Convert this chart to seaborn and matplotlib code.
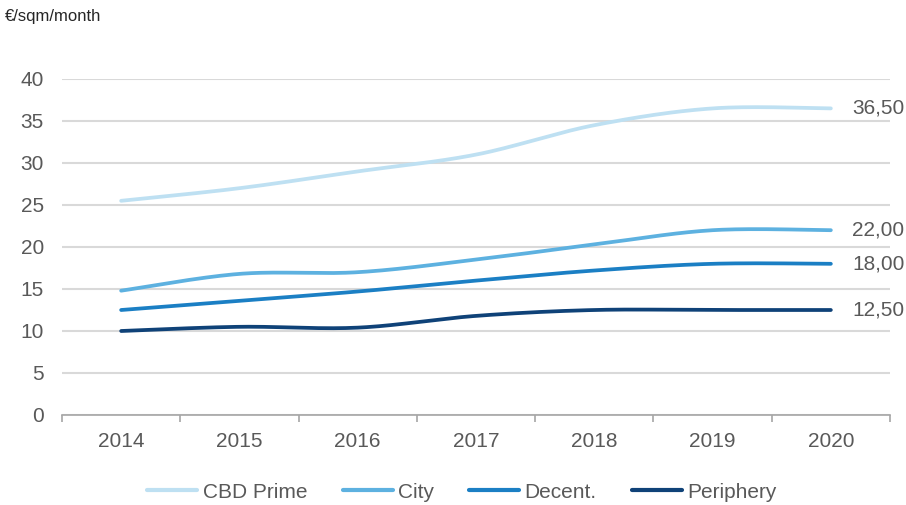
import numpy as np
import pandas as pd
import matplotlib
matplotlib.use("Agg")
import matplotlib.pyplot as plt
import seaborn as sns

years = [2014, 2015, 2016, 2017, 2018, 2019, 2020]
cbd_prime = [25.5, 27.0, 29.0, 31.0, 34.5, 36.5, 36.5]
city = [14.8, 16.8, 17.0, 18.5, 20.3, 22.0, 22.0]
decent = [12.5, 13.6, 14.7, 16.0, 17.2, 18.0, 18.0]
periphery = [10.0, 10.5, 10.4, 11.8, 12.5, 12.5, 12.5]
series_names = ["CBD Prime", "City", "Decent.", "Periphery"]
end_labels = ["36,50", "22,00", "18,00", "12,50"]
y_ticks = [0, 5, 10, 15, 20, 25, 30, 35, 40]
unit_label = "€/sqm/month"

colors = ["#bee0f2", "#5db1e0", "#1b7fc4", "#0f4278"]
text_color = "#595959"
grid_color = "#d9d9d9"
fs = 15


def smooth(xs, ys, n=40):
    """Excel-style smoothed line: cubic Bezier segments with Catmull-Rom control points."""
    xs = np.asarray(xs, float)
    ys = np.asarray(ys, float)
    px = np.concatenate([[xs[0]], xs, [xs[-1]]])
    py = np.concatenate([[ys[0]], ys, [ys[-1]]])
    outx, outy = [], []
    t = np.linspace(0, 1, n)
    for i in range(len(xs) - 1):
        p0 = np.array([px[i + 1], py[i + 1]])
        p3 = np.array([px[i + 2], py[i + 2]])
        pm = np.array([px[i], py[i]])
        pp = np.array([px[i + 3], py[i + 3]])
        c1 = p0 + (p3 - pm) / 6.0
        c2 = p3 - (pp - p0) / 6.0
        b = ((1 - t) ** 3)[:, None] * p0 + (3 * (1 - t) ** 2 * t)[:, None] * c1 \
            + (3 * (1 - t) * t ** 2)[:, None] * c2 + (t ** 3)[:, None] * p3
        if i > 0:
            b = b[1:]
        outx.extend(b[:, 0])
        outy.extend(b[:, 1])
    return np.array(outx), np.array(outy)


sns.set_theme(style="white")
plt.rcParams["font.family"] = ["Liberation Sans", "DejaVu Sans"]

fig = plt.figure(figsize=(9.06, 5.05), dpi=100)
ax = fig.add_axes([62 / 906, 90 / 505, (890 - 62) / 906, (415 - 79) / 505])

all_series = [cbd_prime, city, decent, periphery]
for name, vals, col in zip(series_names, all_series, colors):
    sx, sy = smooth(years, vals)
    df = pd.DataFrame({"year": sx, "value": sy})
    sns.lineplot(data=df, x="year", y="value", ax=ax, color=col, linewidth=2.7,
                 label=name, sort=False, solid_capstyle="round")

for lab, vals in zip(end_labels, all_series):
    ax.text(years[-1] + 0.18, vals[-1], lab, color=text_color, fontsize=fs,
            va="center", ha="left", clip_on=False)

ax.set_xlim(years[0] - 0.5, years[-1] + 0.5)
ax.set_ylim(0, 40)
ax.set_yticks(y_ticks)
ax.set_yticklabels([str(v) for v in y_ticks])
ax.set_xticks(years)
ax.set_xticklabels([str(y) for y in years])
ax.set_xticks(np.arange(years[0] - 0.5, years[-1] + 0.51, 1.0), minor=True)
ax.set_xlabel("")
ax.set_ylabel("")

ax.yaxis.grid(True, color=grid_color, linewidth=1.5)
ax.xaxis.grid(False)
ax.set_axisbelow(True)
for s in ["top", "right", "left"]:
    ax.spines[s].set_visible(False)
ax.spines["bottom"].set_color("#a6a6a6")
ax.spines["bottom"].set_linewidth(1.2)

ax.tick_params(axis="y", length=0, pad=13, labelsize=fs, labelcolor=text_color)
ax.tick_params(axis="x", which="major", length=0, pad=12, labelsize=fs, labelcolor=text_color)
ax.tick_params(axis="x", which="minor", bottom=True, length=5, width=1.2, color="#a6a6a6")

fig.text(5 / 906, 1 - 16 / 505, unit_label, fontsize=12, color="#262626", va="center", ha="left")

leg = ax.legend(loc="center", bbox_to_anchor=((462 - 62) / 828, (415 - 492) / (415 - 79)), ncol=4,
                frameon=False, fontsize=fs, handlelength=2.4, handletextpad=0.25,
                columnspacing=1.7)
for t in leg.get_texts():
    t.set_color(text_color)
for h in leg.get_lines():
    h.set_linewidth(3)

fig.savefig("out.png", dpi=100)
